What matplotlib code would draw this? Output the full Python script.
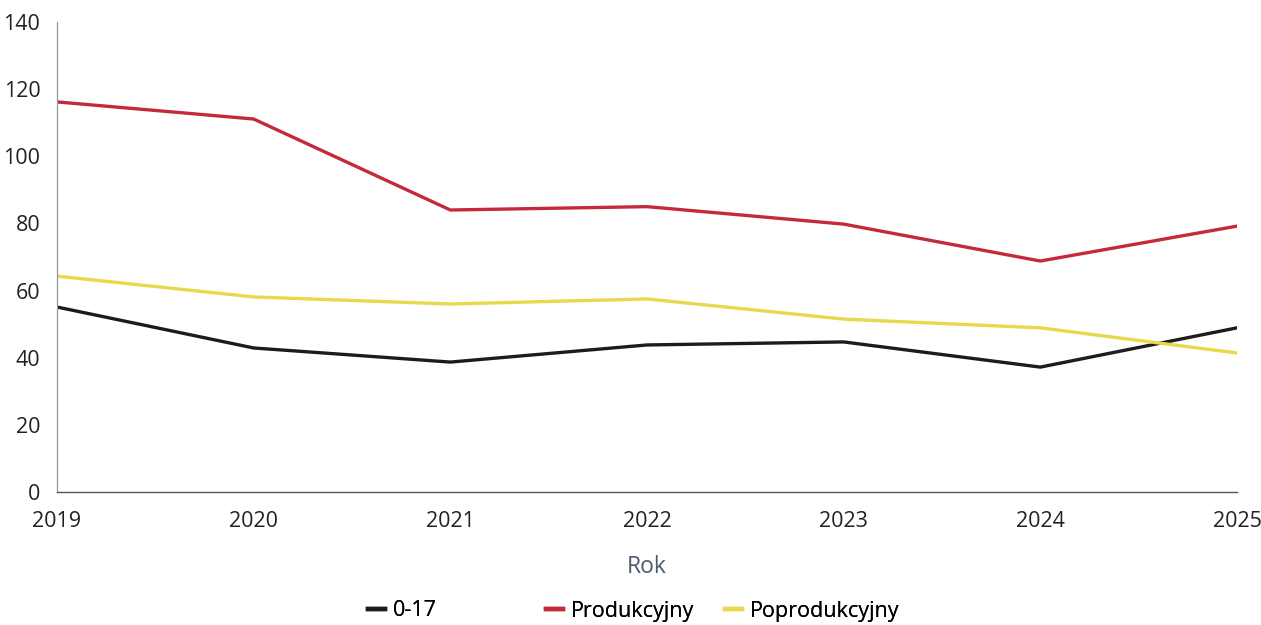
import matplotlib
matplotlib.use("Agg")
import matplotlib.pyplot as plt
from matplotlib.lines import Line2D

plt.rcParams['font.family'] = ['Open Sans', 'DejaVu Sans']

years = [2019, 2020, 2021, 2022, 2023, 2024, 2025]
age_0_17 = [55.1, 42.9, 38.7, 43.8, 44.7, 37.2, 48.9]
produkcyjny = [116.2, 111.1, 84.0, 85.0, 79.8, 68.8, 79.2]
poprodukcyjny = [64.3, 58.1, 56.0, 57.5, 51.5, 48.9, 41.4]

labels = ['0-17', 'Produkcyjny', 'Poprodukcyjny']
colors = ['#1c1c1c', '#c42a3c', '#e9d84c']

fig = plt.figure(figsize=(12.61, 6.25), dpi=100)
ax = fig.add_axes([57 / 1261, 1 - 492 / 625, (1237 - 57) / 1261, (492 - 22) / 625])

for vals, c in zip([age_0_17, produkcyjny, poprodukcyjny], colors):
    ax.plot(years, vals, color=c, lw=2.4, solid_joinstyle='miter')

ax.set_xlim(2019, 2025)
ax.set_ylim(0, 140)
ax.set_yticks(range(0, 141, 20))
ax.set_xticks(years)
ax.tick_params(length=0, labelsize=15.5, colors='#222222')
ax.tick_params(axis='y', pad=12)
ax.tick_params(axis='x', pad=14)
for s in ['top', 'right']:
    ax.spines[s].set_visible(False)
ax.spines['left'].set_color('#8a9aa8')
ax.spines['left'].set_linewidth(0.9)
ax.spines['bottom'].set_color('#555555')
ax.spines['bottom'].set_linewidth(1.0)
ax.set_xlabel('Rok', fontsize=16.5, color='#4a5a70', labelpad=16)

for lab, c, x in zip(labels, colors, [368, 546, 725]):
    h = Line2D([], [], color=c, lw=3.2)
    leg = fig.legend([h], [lab], loc='center left', bbox_to_anchor=(x / 1261, 1 - 611 / 625),
                     frameon=False, fontsize=15.5, handlelength=0.8, handletextpad=0.35,
                     borderpad=0, borderaxespad=0)
    fig.add_artist(leg)

fig.savefig('out.png', dpi=100)
